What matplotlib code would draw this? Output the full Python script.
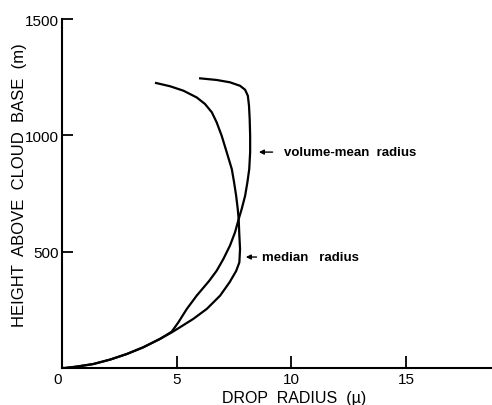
import matplotlib

matplotlib.use("Agg")
import matplotlib.pyplot as plt

plt.rcParams["font.family"] = ["Liberation Sans", "DejaVu Sans"]

# volume-mean radius profile (radius in microns, height in m), top to bottom
vm_radius = [6.02, 6.74, 7.32, 7.76, 7.98, 8.10, 8.15, 8.18, 8.20, 8.20,
             8.16, 8.08, 7.98, 7.83, 7.70, 7.54, 7.32, 7.03, 6.74, 6.41,
             5.87, 5.44, 5.07, 4.78, 4.27, 3.54, 2.82, 2.09, 1.36, 0.64,
             0.13, 0.0]
vm_height = [1245, 1238, 1228, 1213, 1196, 1170, 1127, 1070, 998, 928,
             855, 798, 740, 683, 640, 583, 526, 468, 418, 374,
             311, 254, 196, 156, 125, 89, 60, 36, 17, 6,
             0, 0]

# median radius profile, top to bottom
med_radius = [4.10, 4.71, 5.29, 5.87, 6.23, 6.53, 6.74, 6.96, 7.18, 7.40,
              7.50, 7.59, 7.66, 7.70, 7.73, 7.76, 7.73, 7.59, 7.30, 6.89,
              6.31, 5.72, 5.14, 4.78, 4.27, 3.54, 2.82, 2.09, 1.36, 0.64,
              0.13, 0.0]
med_height = [1225, 1211, 1192, 1163, 1135, 1099, 1056, 998, 927, 855,
              798, 740, 683, 640, 569, 511, 454, 417, 368, 311,
              254, 211, 175, 153, 125, 89, 60, 36, 17, 6,
              0, 0]

x_ticks = [0, 5, 10, 15]
y_ticks = [500, 1000, 1500]

fig = plt.figure(figsize=(4.92, 4.06), dpi=100)
ax = fig.add_axes([0.126, 0.0911, 0.874, 0.8596])

ax.plot(vm_radius, vm_height, color="black", lw=1.6)
ax.plot(med_radius, med_height, color="black", lw=1.6)

ax.set_xlim(0, 18.74)
ax.set_ylim(0, 1500)

for side in ["top", "right"]:
    ax.spines[side].set_visible(False)
for side in ["left", "bottom"]:
    ax.spines[side].set_linewidth(1.5)

ax.set_xticks(x_ticks)
ax.set_xticklabels([str(t) for t in x_ticks], fontsize=11)
ax.xaxis.get_ticklabels()[0].set_horizontalalignment("right")
ax.set_yticks(y_ticks)
ax.set_yticklabels([str(t) for t in y_ticks], fontsize=11)
ax.tick_params(axis="x", direction="in", length=9, width=1.3, pad=3)
ax.tick_params(axis="y", direction="in", length=8, width=1.3, pad=2.5)

ax.set_xlabel("DROP  RADIUS  (\u00b5)", fontsize=11.5, va="top")
ax.xaxis.set_label_coords(0.54, -0.062)
ax.set_ylabel("HEIGHT  ABOVE  CLOUD  BASE  (m)", fontsize=12)
ax.yaxis.set_label_coords(-0.081, 0.527)

# annotations
ax.annotate("", xy=(8.46, 928), xytext=(9.3, 928),
            arrowprops=dict(arrowstyle="-|>", color="black", lw=1.0,
                            mutation_scale=7))
ax.text(9.68, 928, "volume-mean  radius", fontsize=9.5, fontweight="bold",
        va="center", ha="left")
ax.annotate("", xy=(7.89, 477), xytext=(8.6, 477),
            arrowprops=dict(arrowstyle="-|>", color="black", lw=1.0,
                            mutation_scale=7))
ax.text(8.72, 477, "median   radius", fontsize=9.5, fontweight="bold",
        va="center", ha="left")

fig.savefig("out.png", dpi=100, facecolor="white")
